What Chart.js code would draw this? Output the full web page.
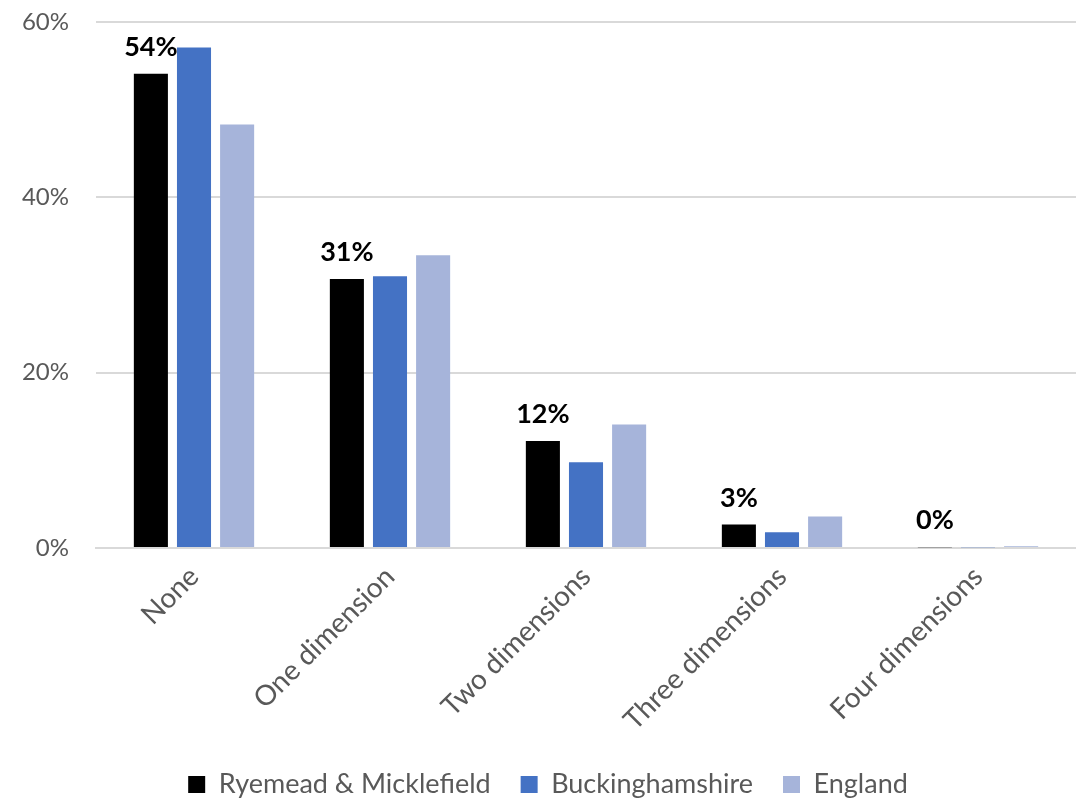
<!DOCTYPE html>
<html>
<head>
<meta charset="utf-8">
<script src="https://cdn.jsdelivr.net/npm/chart.js@4"></script>
<style>
  html, body { margin: 0; padding: 0; background: #fff; }
  #wrap { width: 1076px; height: 799px; }
</style>
</head>
<body>
<div id="wrap"><canvas id="chart"></canvas></div>
<script>
// Deprivation dimensions, share of households (%)
const CATEGORIES = ['None', 'One dimension', 'Two dimensions', 'Three dimensions', 'Four dimensions'];
const RYEMEAD = [54.1, 30.7, 12.2, 2.7, 0.1];
const BUCKS = [57.1, 31.0, 9.8, 1.8, 0.1];
const ENGLAND = [48.3, 33.4, 14.1, 3.6, 0.2];
const Y_TICKS = [0, 20, 40, 60];

const FONT = 'Lato, "Open Sans", sans-serif';
const GREY = '#595959';

// Bold value labels above the first series only
const valueLabels = {
  id: 'valueLabels',
  afterDatasetsDraw(chart) {
    const { ctx } = chart;
    const meta = chart.getDatasetMeta(0);
    ctx.save();
    ctx.font = 'bold 27px ' + FONT;
    ctx.fillStyle = '#000';
    ctx.textAlign = 'center';
    ctx.textBaseline = 'bottom';
    meta.data.forEach((bar, i) => {
      const v = chart.data.datasets[0].data[i];
      ctx.fillText(Math.round(v) + '%', bar.x, bar.y - 13);
    });
    ctx.restore();
  },
};

new Chart(document.getElementById('chart'), {
  type: 'bar',
  data: {
    labels: CATEGORIES,
    datasets: [
      { label: 'Ryemead & Micklefield', data: RYEMEAD, backgroundColor: '#000000' },
      { label: 'Buckinghamshire', data: BUCKS, backgroundColor: '#4472c4' },
      { label: 'England', data: ENGLAND, backgroundColor: '#a6b4da' },
    ],
  },
  options: {
    responsive: true,
    maintainAspectRatio: false,
    animation: false,
    categoryPercentage: 0.66,
    barPercentage: 0.79,
    layout: { padding: { left: 20, right: 0, top: 22, bottom: -9 } },
    plugins: {
      legend: {
        position: 'bottom',
        labels: {
          font: { family: FONT, size: 27 },
          color: GREY,
          boxWidth: 17,
          boxHeight: 17,
          padding: 30,
        },
      },
      tooltip: { enabled: false },
    },
    scales: {
      x: {
        grid: { display: false },
        border: { color: '#d9d9d9', width: 2 },
        ticks: {
          font: { family: FONT, size: 28 },
          color: GREY,
          minRotation: 45,
          maxRotation: 45,
          padding: 4,
        },
        // keep the rotated labels from pushing the plot inwards
        afterFit(axis) { axis.paddingLeft = 0; axis.paddingRight = 0; },
      },
      y: {
        min: 0,
        max: 60,
        afterBuildTicks(axis) { axis.ticks = Y_TICKS.map((v) => ({ value: v })); },
        afterFit(axis) {
          axis.width = 76;
          axis.paddingTop = 0;
          axis.paddingBottom = 0;
        },
        grid: { color: '#d9d9d9', drawTicks: false, lineWidth: 2 },
        border: { display: false },
        ticks: {
          font: { family: FONT, size: 24 },
          color: GREY,
          padding: 27,
          callback: (v) => v + '%',
        },
      },
    },
  },
  plugins: [valueLabels],
});
</script>
</body>
</html>
